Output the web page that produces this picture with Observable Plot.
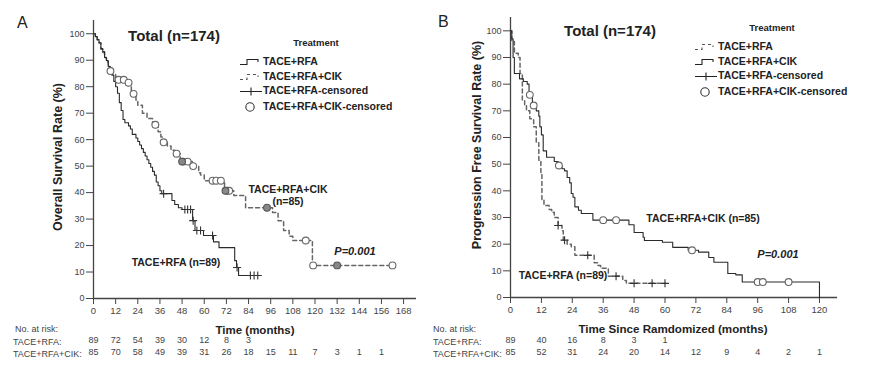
<!DOCTYPE html>
<html><head><meta charset="utf-8">
<script src="https://cdn.jsdelivr.net/npm/d3@7"></script>
<script src="https://cdn.jsdelivr.net/npm/@observablehq/plot@0.6"></script>
<style>
body{margin:0;background:#fff;}
#wrap{position:relative;width:869px;height:373px;overflow:hidden;font-family:"Liberation Sans",Arial,sans-serif;background:#fff;}
#wrap svg{position:absolute;left:0;top:0;}
</style></head><body><div id="wrap"></div>
<script>
// ---------- Panel A: Overall survival ----------
const aRfaT = [0,1,2,3,4,5,6,7,8,9,10,11,12,13,14,15,16,17,19,20,21,23,24,25,26,27,28,29,30,31,32,33,34,35,36,37,42.5,44,46,48,53.7,55,59.6,65,68,76.5,77.5,78.6,89];
const aRfaS = [100,98.9,97.8,96.6,94.4,93.3,91,89.9,87.6,85.4,84.3,82,80,77.5,74,71,67.6,66.4,65.2,64,62,60.6,59.3,58,56.6,55.2,53.8,52.4,51,49.6,48,46.6,44,42.6,40.7,39.6,37,35.5,34.3,33.6,29.4,25.7,23.8,21.4,19.2,14.3,11.7,8.7,8.7];
const aRfaCens = [38,49.5,51,52.6,54,56,58,64.5,77.8,85,87,89];
const aCikT = [0,1,2,3,4,5,6,7,8,9,10,12,18,20.5,23,24,26.5,29,32,35,36.5,37.5,40,42,44,47,53.5,57,58,60,71,76,82.4,97,100,103,106,108,118.6,162];
const aCikS = [100,98.8,97.6,96.5,94.1,92.9,91,89.4,87.6,85.9,84.7,82.6,81.5,77.3,75,73,70,68,65.6,63,61,59,57.6,56,54.7,51.7,50,47.5,46.6,44.5,40.7,38.9,34.3,32.5,29.4,25.7,23.5,21.9,12.5,12.5];
const aCikCens = [9.2,13.6,16.4,19,21.7,33.5,38,45,48.6,51,54,64.5,66.5,69,72.5,73.5,115,119,162];
const aCikCensDark = [48,71.5,94,132];
const aTicks = [0,12,24,36,48,60,72,84,96,108,120,132,144,156,168];
const aRiskRfa = [89,72,54,39,30,12,8,3];
const aRiskCik = [85,70,58,49,39,31,26,18,15,11,7,3,1,1];

// ---------- Panel B: Progression free survival ----------
const bRfaT = [0,0.5,1.5,3,3.7,4.6,5.5,6.2,7.5,9,10,11,11.8,12.2,13,15,16,17,18.5,20,20.5,22,23.6,25,32.5,34,35,38,43.6,45,60];
const bRfaS = [100,96,91.6,90,84,74,72,70,67,64,58,51.5,46.6,36.5,34.5,33,32,30,27,25,21.5,20,19,15.8,13,12,11,8,6.4,5.3,5.3];
const bRfaCens = [18.5,21,30,41,48,55,60];
const bCikT = [0,0.5,1,1.5,3.5,5,6.5,7.2,8.5,10,11,11.4,12,12.7,14,17,18.5,20,21,22,23,23.6,24.3,25,26.4,27.5,32,46,48,51.5,52,59,63,69,73,77,79,84.4,87.5,90,120];
const bCikS = [100,97,90,84,82,81,80,76,72,70,68,64,61,55,52.6,51,49.5,48.3,47.5,45,43,39,37.6,34,32.7,31.5,29,27.3,24.4,22.6,21.4,20.7,18.8,17.7,17,15,13.2,9,8.5,5.8,0];
const bCikCens = [7.5,9,18.8,36,41,70.5,96,98,108];
const bTicks = [0,12,24,36,48,60,72,84,96,108,120];
const bRiskRfa = [89,40,16,8,3,1];
const bRiskCik = [85,52,31,24,20,14,12,9,4,2,1];

const yTicks = [0,10,20,30,40,50,60,70,80,90,100];

// helpers
function stepAt(T,S,t){let v=S[0];for(let i=0;i<T.length;i++){if(T[i]<=t)v=S[i];else break;}return v;}
const curve=(T,S)=>T.map((t,i)=>({t,s:S[i]}));
const cens=(T,S,C)=>C.map(t=>({t,s:stepAt(T,S,t)}));
const risk=(ticks,vals)=>vals.map((n,i)=>({t:ticks[i],n:String(n)}));
const FONT='"Liberation Sans",Arial,sans-serif';

function panel(o){
  return Plot.plot({
    width:o.width,height:373,marginLeft:o.ml,marginRight:o.mr,marginTop:o.mt,marginBottom:o.mb,
    x:{domain:o.xd},y:{domain:[0,105]},
    style:{fontFamily:FONT,fontSize:"9px",color:"#444",background:"transparent",overflow:"visible"},
    marks:[
      Plot.axisY({ticks:yTicks,tickSize:7,tickPadding:2,label:null,fontSize:9,stroke:"#444"}),
      Plot.axisX({ticks:o.ticks,tickSize:6,tickPadding:3,label:null,fontSize:9.5,stroke:"#444"}),
      Plot.ruleX([0],{stroke:"#444",strokeWidth:1.3}),
      Plot.ruleY([0],{stroke:"#444",strokeWidth:1.3}),
      Plot.line(o.dashed,{x:"t",y:"s",curve:"step-after",stroke:"#666",strokeWidth:1.5,strokeDasharray:"4,3"}),
      Plot.line(o.solid,{x:"t",y:"s",curve:"step-after",stroke:"#2a2a2a",strokeWidth:1.1}),
      Plot.dot(o.plus,{x:"t",y:"s",symbol:"plus",r:2.7,stroke:"#333",strokeWidth:1.1}),
      Plot.dot(o.circ,{x:"t",y:"s",r:3.4,stroke:"#666",strokeWidth:1.1,fill:"white"}),
      Plot.dot(o.circDark||[],{x:"t",y:"s",r:3.4,stroke:"#555",strokeWidth:1.1,fill:"#888"}),
      Plot.text(o.r1,{x:"t",text:"n",frameAnchor:"bottom",dy:o.d1,fontSize:9,fill:"#444"}),
      Plot.text(o.r2,{x:"t",text:"n",frameAnchor:"bottom",dy:o.d1+12,fontSize:9,fill:"#444"})
    ]
  });
}

const wrap=document.getElementById("wrap");

const pA=panel({width:440,ml:93,mr:24,mt:20,mb:75,xd:[0,175],ticks:aTicks,
  solid:curve(aRfaT,aRfaS),dashed:curve(aCikT,aCikS),
  plus:cens(aRfaT,aRfaS,aRfaCens),circ:cens(aCikT,aCikS,aCikCens),circDark:cens(aCikT,aCikS,aCikCensDark),
  r1:risk(aTicks,aRiskRfa),r2:risk(aTicks,aRiskCik),d1:44.5});
pA.style.left="0px";
wrap.appendChild(pA);

const pB=panel({width:439,ml:80,mr:32,mt:17,mb:76,xd:[0,127],ticks:bTicks,
  solid:curve(bCikT,bCikS),dashed:curve(bRfaT,bRfaS),
  plus:cens(bRfaT,bRfaS,bRfaCens),circ:cens(bCikT,bCikS,bCikCens),
  r1:risk(bTicks,bRiskRfa),r2:risk(bTicks,bRiskCik),d1:45.2});
pB.style.left="430px";
wrap.appendChild(pB);

// ---------- overlay text, legends ----------
const ov=d3.select(wrap).append("svg").attr("width",869).attr("height",373)
  .style("font-family",FONT).style("pointer-events","none");
function txt(x,y,s,opt={}){
  const t=ov.append("text").attr("x",x).attr("y",y).text(s)
    .attr("font-size",opt.size||10.5).attr("fill",opt.fill||"#222")
    .attr("font-weight",opt.weight||"bold").attr("text-anchor",opt.anchor||"middle");
  if(opt.italic)t.attr("font-style","italic");
  if(opt.rotate)t.attr("transform",`rotate(-90,${x},${y})`);
  if(opt.mid)t.attr("dominant-baseline","middle");
  return t;
}
// panel letters
txt(17,28,"A",{size:16,weight:"normal",anchor:"start"});
txt(438,27,"B",{size:16,weight:"normal",anchor:"start"});
// titles
txt(174,41,"Total (n=174)",{size:15});
txt(610,36,"Total (n=174)",{size:15});
// y labels
txt(59,157,"Overall Survival Rate (%)",{size:12.5,rotate:true,mid:true});
txt(478,145,"Progression Free Survival Rate (%)",{size:12.5,rotate:true,mid:true});
// x labels
txt(255,333.5,"Time (months)",{size:11.5});
txt(673,333,"Time Since Ramdomized (months)",{size:11.6});
// risk table labels
[[15,332,"No. at risk:"],[13,345,"TACE+RFA:"],[13,357,"TACE+RFA+CIK:"],
 [433,332,"No. at risk:"],[433,345,"TACE+RFA:"],[433,357,"TACE+RFA+CIK:"]].forEach(d=>
  txt(d[0],d[1],d[2],{size:9,weight:"normal",anchor:"start",fill:"#444"}));
// annotations
txt(288,193,"TACE+RFA+CIK");
txt(288,205,"(n=85)");
txt(355,255,"P=0.001",{size:11,italic:true});
txt(176,266,"TACE+RFA (n=89)");
txt(703,222,"TACE+RFA+CIK (n=85)");
txt(778,258,"P=0.001",{size:11,italic:true});
txt(563,279,"TACE+RFA (n=89)");

// legends
function legend(x0,yT,cx,rows,labels){
  txt(cx,yT,"Treatment",{size:9.5,mid:true});
  rows.forEach((k,i)=>{
    const y=[0,15,29.5,45][i]+yT+19;
    const g=ov.append("g");
    if(k==="solid"||k==="dashed"){
      g.append("path").attr("d",`M${x0},${y+2.5}H${x0+7}V${y-2.5}H${x0+18}V${y}`)
        .attr("fill","none").attr("stroke",k==="solid"?"#222":"#555").attr("stroke-width",1.1)
        .attr("stroke-dasharray",k==="dashed"?"3,3":null);
    } else if(k==="plus"){
      g.append("path").attr("d",`M${x0},${y}H${x0+22}M${x0+11},${y-4}V${y+4}`).attr("stroke","#222").attr("stroke-width",1.1);
    } else {
      g.append("circle").attr("cx",x0+10).attr("cy",y).attr("r",4.2).attr("fill","none").attr("stroke","#333").attr("stroke-width",1.1);
    }
    txt(x0+23,y,labels[i],{anchor:"start",mid:true});
  });
}
legend(240,43,316,["solid","dashed","plus","circle"],["TACE+RFA","TACE+RFA+CIK","TACE+RFA-censored","TACE+RFA+CIK-censored"]);
legend(695,28,772,["dashed","solid","plus","circle"],["TACE+RFA","TACE+RFA+CIK","TACE+RFA-censored","TACE+RFA+CIK-censored"]);
</script></body></html>
